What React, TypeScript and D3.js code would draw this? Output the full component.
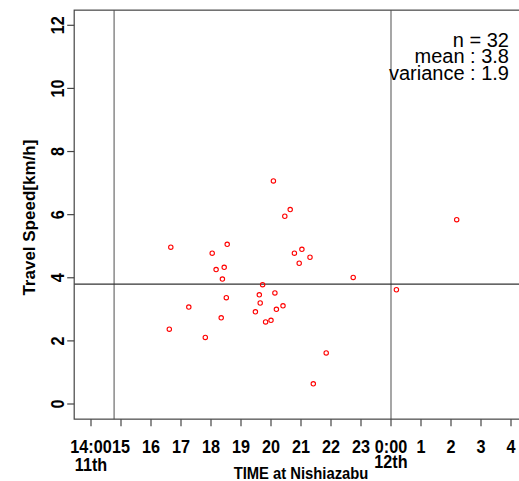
import React from 'react';
import * as d3 from 'd3';

const times = [
  20.08, 20.64, 20.46, 16.66, 18.54, 18.04, 20.78, 21.03, 21.3, 20.94,
  18.17, 18.44, 18.38, 22.74, 19.72, 19.61, 20.13, 18.51, 17.26, 19.64,
  20.4, 20.18, 19.48, 18.34, 19.82, 20.0, 16.61, 17.81, 21.84, 21.41,
  26.19, 24.18,
];
const speeds = [
  7.07, 6.16, 5.95, 4.97, 5.06, 4.78, 4.78, 4.9, 4.65, 4.46,
  4.26, 4.33, 3.96, 4.01, 3.78, 3.46, 3.52, 3.37, 3.07, 3.2,
  3.11, 3.0, 2.92, 2.73, 2.6, 2.65, 2.37, 2.11, 1.62, 0.64,
  5.84, 3.62,
];
const xTickValues = [14, 15, 16, 17, 18, 19, 20, 21, 22, 23, 24, 25, 26, 27, 28];
const xTickLabels = ['14:00', '15', '16', '17', '18', '19', '20', '21', '22', '23', '0:00', '1', '2', '3', '4'];
const dayTimes = [14, 24];
const dayLabels = ['11th', '12th'];
const yTicks = [0, 2, 4, 6, 8, 10, 12];
const refTimes = [14.77, 24];
const meanSpeed = 3.8;
const statsLines = ['n = 32', 'mean : 3.8', 'variance : 1.9'];

const W = 519;
const H = 481;

export default function App() {
  const x = d3.scaleLinear().domain([14, 28]).range([91, 511]);
  const y = d3.scaleLinear().domain([0, 12]).range([404, 25.3]);
  const pad = 0.04;
  const xl = x(14 - 14 * pad);
  const xr = x(28 + 14 * pad);
  const yb = y(-12 * pad);
  const yt = y(12 + 12 * pad);
  const font = 'Liberation Sans, Arial, sans-serif';
  return (
    <div style={{ position: 'absolute', left: 0, top: 0 }}>
      <svg width={W} height={H} style={{ display: 'block', background: '#fff' }} fontFamily={font}>
        {refTimes.map((t, i) => (
          <line key={'v' + i} x1={x(t)} x2={x(t)} y1={yt} y2={yb} stroke="#777" strokeWidth={1.3} />
        ))}
        <line x1={xl} x2={xr} y1={y(meanSpeed)} y2={y(meanSpeed)} stroke="#333" strokeWidth={1.3} />
        <rect x={xl} y={yt} width={xr - xl} height={yb - yt} fill="none" stroke="#444" strokeWidth={1.2} />
        {times.map((t, i) => (
          <circle key={'p' + i} cx={x(t)} cy={y(speeds[i])} r={2.2} fill="none" stroke="#ff0000" strokeWidth={1.1} />
        ))}
        {xTickValues.map((t, i) => (
          <g key={'xt' + i}>
            <line x1={x(t)} x2={x(t)} y1={yb} y2={yb + 7} stroke="#444" strokeWidth={1.2} />
            <text transform={`translate(${x(t)},452.5) scale(0.9,1)`} textAnchor="middle" fontSize={18} fontWeight="bold">{xTickLabels[i]}</text>
          </g>
        ))}
        {dayTimes.map((t, i) => (
          <text key={'d' + i} transform={`translate(${x(t)},${i === 0 ? 471 : 467.5}) scale(0.9,1)`} textAnchor="middle" fontSize={18} fontWeight="bold">{dayLabels[i]}</text>
        ))}
        {yTicks.map((v, i) => (
          <g key={'yt' + i}>
            <line x1={xl - 7} x2={xl} y1={y(v)} y2={y(v)} stroke="#444" strokeWidth={1.2} />
            <text transform={`translate(63.5,${y(v)}) rotate(-90) scale(0.9,1)`} textAnchor="middle" fontSize={18} fontWeight="bold">{v}</text>
          </g>
        ))}
        <text transform={`translate(${(xl + xr) / 2},478.5) scale(0.87,1)`} textAnchor="middle" fontSize={17} fontWeight="bold">TIME at Nishiazabu</text>
        <text transform={`translate(34.5,${(yt + yb) / 2 + 3}) rotate(-90)`} textAnchor="middle" fontSize={17} fontWeight="bold">Travel Speed[km/h]</text>
        {statsLines.map((s, i) => (
          <text key={'s' + i} x={509} y={46.5 + i * 16.5} textAnchor="end" fontSize={20}>{s}</text>
        ))}
      </svg>
    </div>
  );
}
